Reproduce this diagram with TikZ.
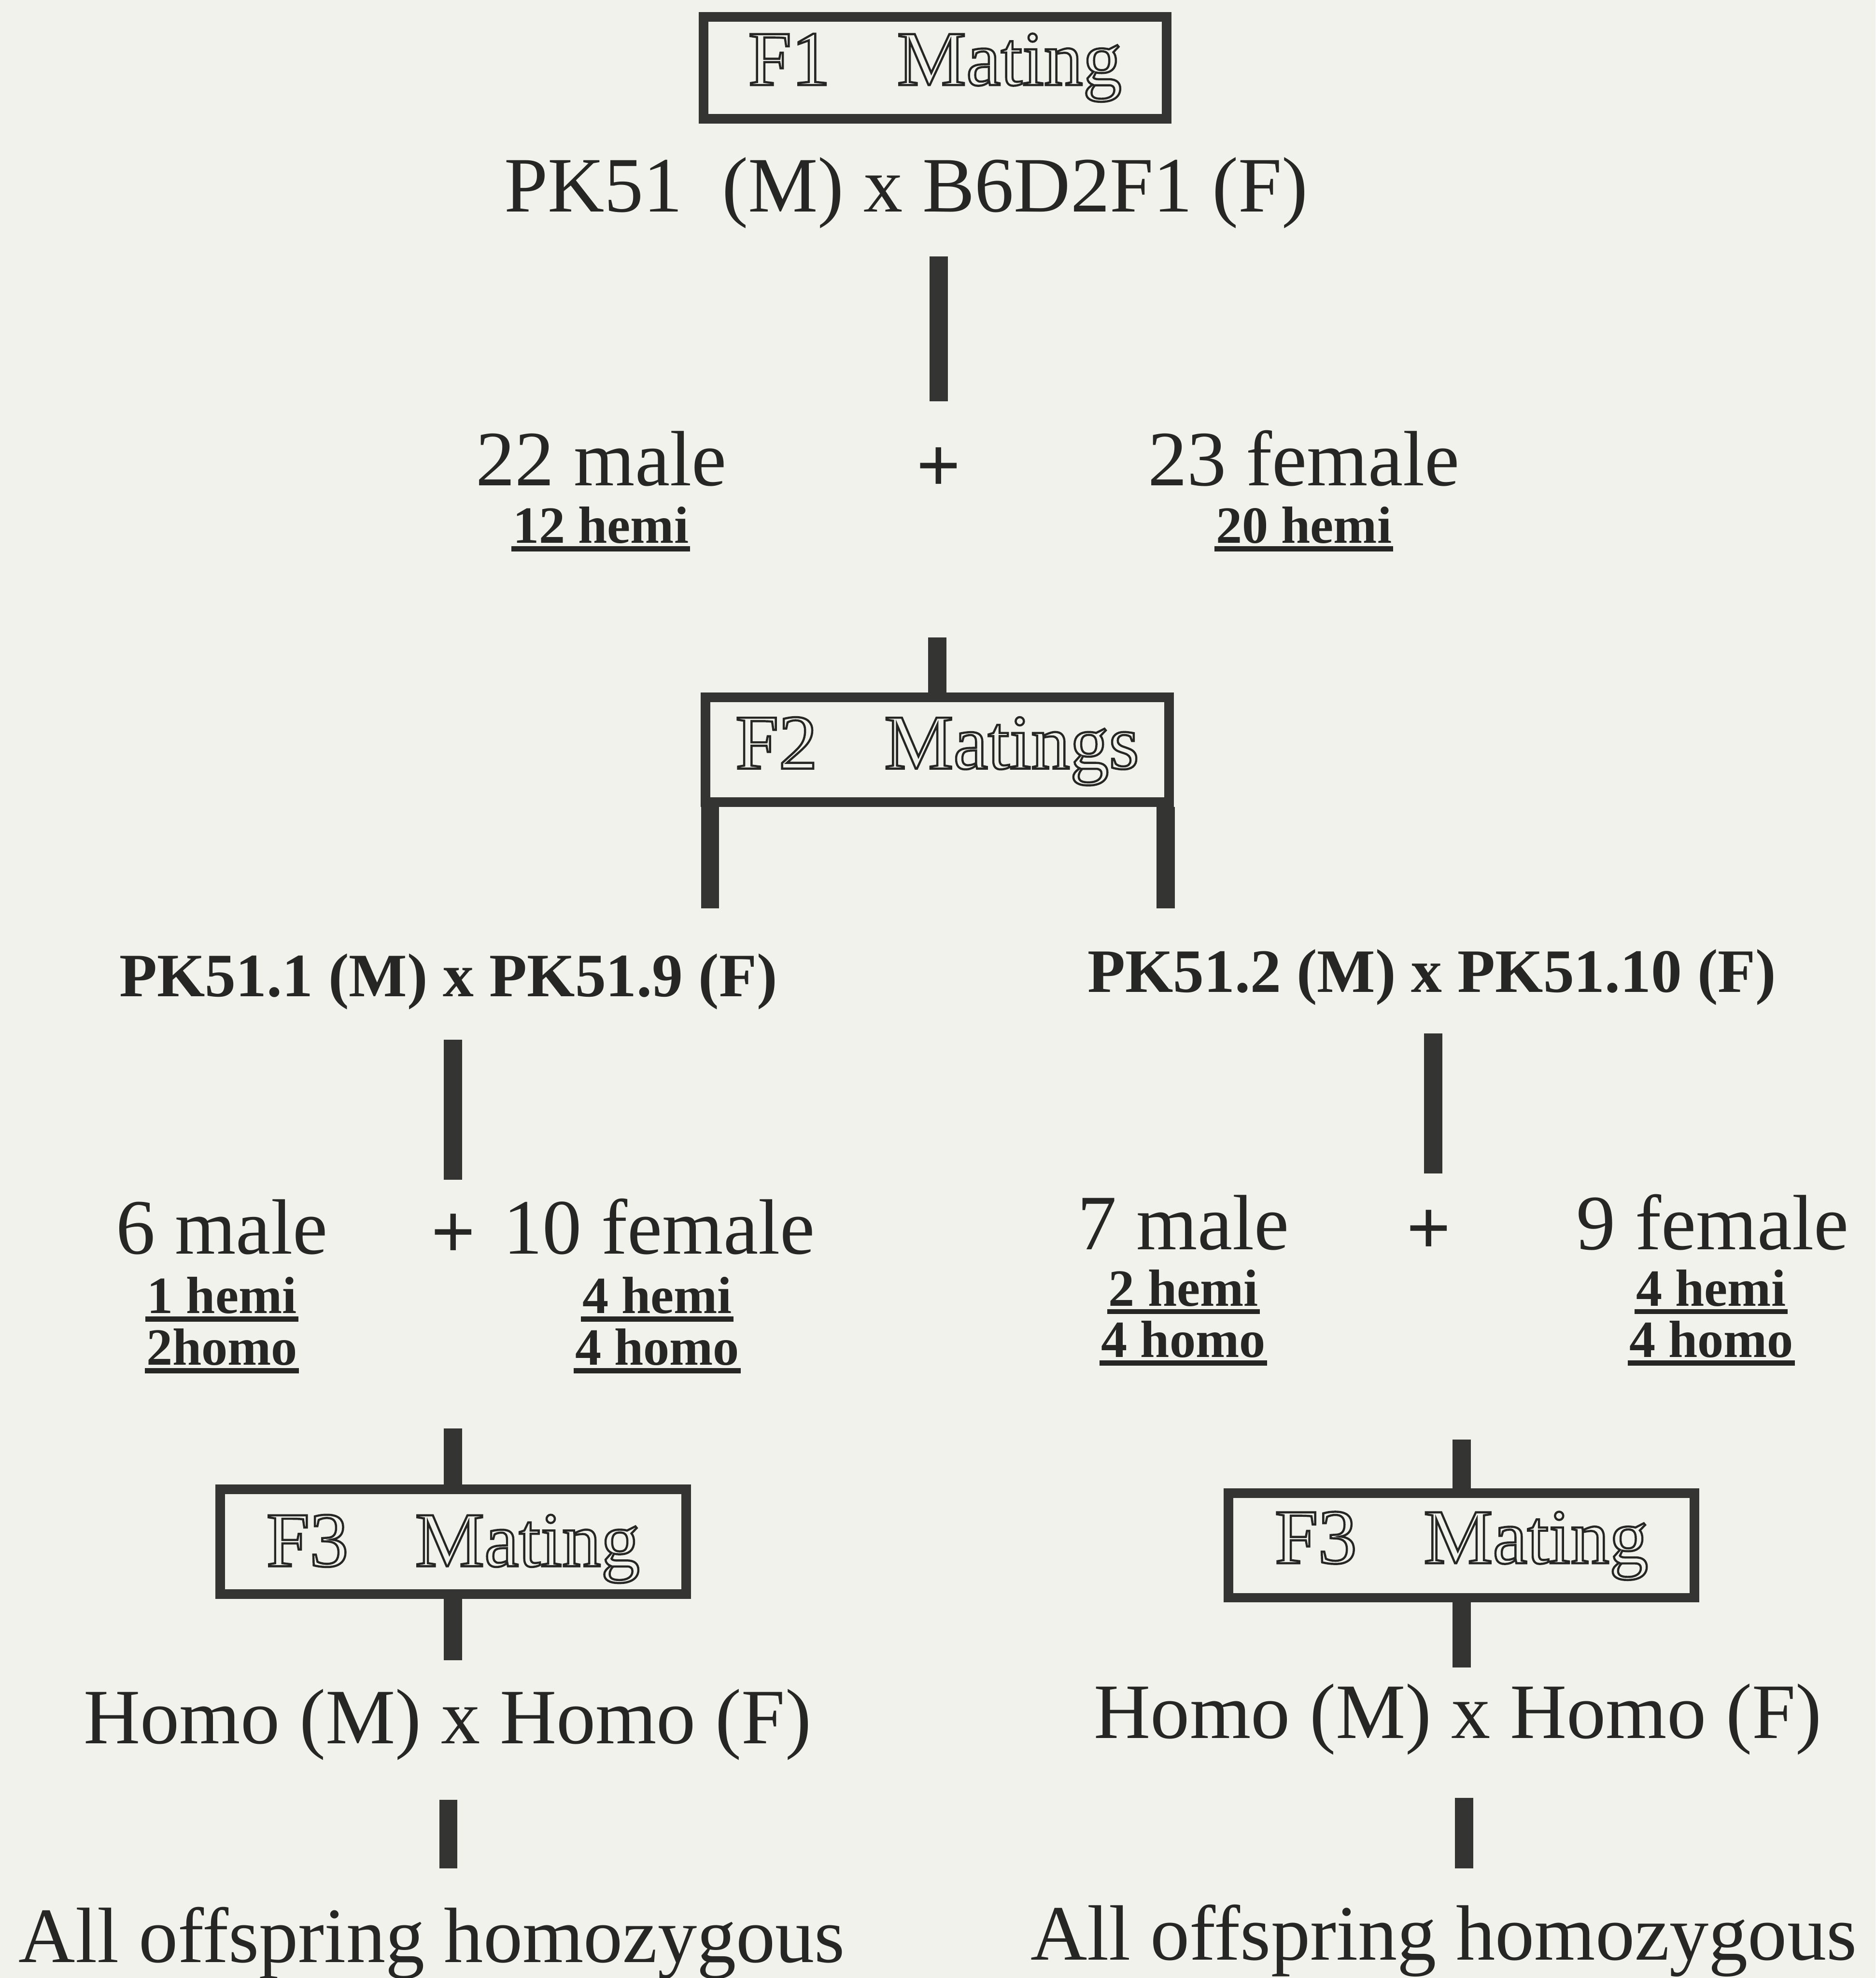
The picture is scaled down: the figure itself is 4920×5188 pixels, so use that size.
\documentclass[tikz,border=0pt]{standalone}
\usepackage{fontspec}
\setmainfont{Liberation Serif}

\definecolor{paper}{RGB}{242,242,236}
\definecolor{ink}{RGB}{38,38,36}
\definecolor{rulec}{RGB}{52,52,50}

% hollow (stroked) lettering for the mating boxes
\newcommand{\hollow}[1]{\special{pdf:literal direct 1 Tr 1.6 w}#1\special{pdf:literal direct 0 Tr 1 w}}
% heavy underline for the genotype counts
\newcommand{\heavyline}[1]{\setbox0=\hbox{#1}\rlap{\hspace{-0.03em}\rule[-0.16em]{\dimexpr\wd0+0.06em\relax}{0.1em}}\box0}

\tikzset{
  plain/.style={anchor=base, inner sep=0pt, text=ink, font=\fontsize{58.5}{70}\selectfont},
  plus/.style={anchor=base, inner sep=0pt, text=ink, font=\fontsize{58.5}{70}\selectfont\bfseries},
  boldline/.style={anchor=base, inner sep=0pt, text=ink, font=\fontsize{46}{54}\selectfont\bfseries},
  sub/.style={anchor=base, inner sep=0pt, text=ink, font=\fontsize{39}{46}\selectfont\bfseries},
  matebox/.style={anchor=base, inner sep=0pt, draw=rulec, line width=0.25cm, align=center,
    text=ink, font=\fontsize{58}{70}\selectfont},
  bar/.style={draw=rulec, line width=0.48cm, line cap=butt}
}

\begin{document}
\begin{tikzpicture}[x=0.01cm, y=-0.01cm]
\useasboundingbox (0,0) rectangle (4920,5188);
\fill[paper] (0,0) rectangle (4920,5188);

% F1 generation
\node[matebox, text width=12.14cm, text height=1.785cm, text depth=0.885cm] (box1) at (2452.5,223) {\hollow{F1\hspace{1.75cm}Mating}};
\node[plain] (cross1) at (2377,556) {PK51\ \ (M) x B6D2F1 (F)};
\coordinate (b1a) at (2462,673);
\coordinate (b1b) at (2462,1052);
\draw[bar] (b1a) -- (b1b);

\node[plain] (m1) at (1577,1273) {22 male};
\node[plain, plus] (p1) at (2462,1290) {+};
\node[plain] (f1) at (3420,1273) {23 female};
\node[sub] (m1g) at (1576,1424) {\heavyline{12 hemi}};
\node[sub] (f1g) at (3420,1424) {\heavyline{20 hemi}};

% F2 generation
\node[matebox, text width=12.16cm, text height=1.865cm, text depth=0.875cm] (box2) at (2458.5,2016) {\hollow{F2\hspace{1.75cm}Matings}};
\coordinate (b2a) at (2458.5,1672);
\draw[bar] (b2a) -- (box2.north);
\coordinate (legL) at (1862.5,2382);
\coordinate (legR) at (3058,2382);
\draw[bar] (legL |- box2.south) -- (legL);
\draw[bar] (legR |- box2.south) -- (legR);

\node[boldline] (cross2L) at (1176,2614) {PK51.1 (M) x PK51.9 (F)};
\node[boldline] (cross2R) at (3756,2602) {PK51.2 (M) x PK51.10 (F)};

\coordinate (b3La) at (1188,2727);
\coordinate (b3Lb) at (1188,3094);
\coordinate (b3Ra) at (3759,2711);
\coordinate (b3Rb) at (3759,3078);
\draw[bar] (b3La) -- (b3Lb);
\draw[bar] (b3Ra) -- (b3Rb);

\node[plain] (m2L) at (582,3289) {6 male};
\node[plus] (p2L) at (1189,3300) {+};
\node[plain] (f2L) at (1729,3289) {10 female};
\node[sub] (m2Lh) at (582,3445) {\heavyline{1 hemi}};
\node[sub] (m2Lo) at (582,3580) {\heavyline{2homo}};
\node[sub] (f2Lh) at (1724,3445) {\heavyline{4 hemi}};
\node[sub] (f2Lo) at (1724,3580) {\heavyline{4 homo}};

\node[plain] (m2R) at (3104,3277) {7 male};
\node[plus] (p2R) at (3748,3290) {+};
\node[plain] (f2R) at (4492,3277) {9 female};
\node[sub] (m2Rh) at (3104,3425) {\heavyline{2 hemi}};
\node[sub] (m2Ro) at (3104,3560) {\heavyline{4 homo}};
\node[sub] (f2Rh) at (4488,3425) {\heavyline{4 hemi}};
\node[sub] (f2Ro) at (4489,3560) {\heavyline{4 homo}};

% F3 generation, left branch
\node[matebox, text width=12.22cm, text height=2.015cm, text depth=0.725cm] (box3L) at (1188.5,4108) {\hollow{F3\hspace{1.75cm}Mating}};
\coordinate (b4La) at (1188.5,3747);
\coordinate (b4Lb) at (1188.5,4355);
\draw[bar] (b4La) -- (box3L.north);
\draw[bar] (box3L.south) -- (b4Lb);
\node[plain] (homoL) at (1174,4573) {Homo (M) x Homo (F)};
\coordinate (b5La) at (1176,4720);
\coordinate (b5Lb) at (1176,4900);
\draw[bar] (b5La) -- (b5Lb);
\node[plain] (allL) at (1133,5147) {All offspring homozygous};

% F3 generation, right branch
\node[matebox, text width=12.22cm, text height=1.835cm, text depth=0.905cm] (box3R) at (3833.5,4100) {\hollow{F3\hspace{1.75cm}Mating}};
\coordinate (b4Ra) at (3833.5,3776);
\coordinate (b4Rb) at (3833.5,4374);
\draw[bar] (b4Ra) -- (box3R.north);
\draw[bar] (box3R.south) -- (b4Rb);
\node[plain] (homoR) at (3824,4559) {Homo (M) x Homo (F)};
\coordinate (b5Ra) at (3840,4715);
\coordinate (b5Rb) at (3840,4900);
\draw[bar] (b5Ra) -- (b5Rb);
\node[plain] (allR) at (3787,5140) {All offspring homozygous};
\end{tikzpicture}
\end{document}
